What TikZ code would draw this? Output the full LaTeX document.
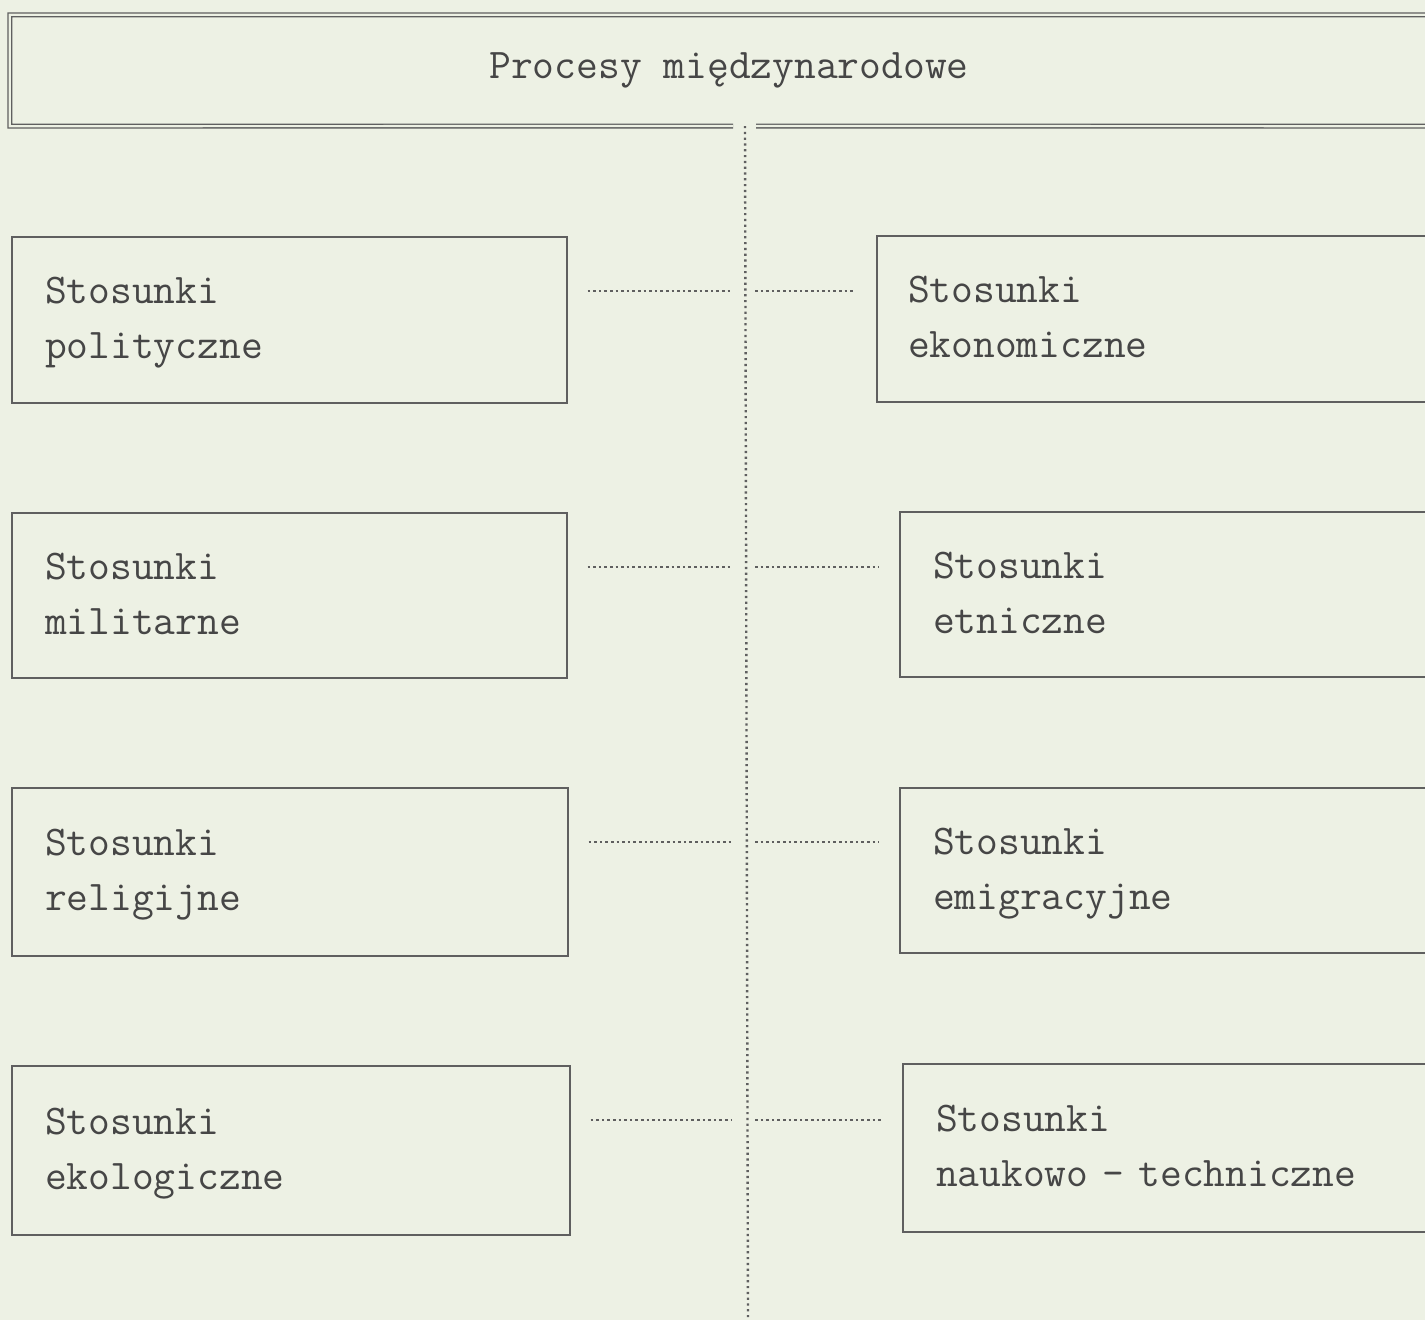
\documentclass[tikz,border=0pt]{standalone}
\usepackage{fontspec}
\usetikzlibrary{calc}
\definecolor{bg}{RGB}{237,241,228}
\definecolor{ink}{RGB}{70,70,70}
\definecolor{rule}{RGB}{95,95,95}
\tikzset{
  relbox/.style={draw=rule, line width=1.3pt, rectangle, align=left,
    inner xsep=33pt, inner ysep=0pt,
    font=\ttfamily\fontsize{42.3pt}{55pt}\selectfont, text=ink},
  titlebox/.style={rectangle, inner sep=0pt,
    font=\ttfamily\fontsize{42.3pt}{50pt}\selectfont, text=ink},
  dotline/.style={draw=rule, line width=2pt, dash pattern=on 2.6pt off 3pt},
  vline/.style={draw=rule, line width=2.4pt, dash pattern=on 2.2pt off 3.6pt},
  dbl/.style={draw=rule, line width=1.4pt, double=bg, double distance=2.2pt}
}
\begin{document}
\begin{tikzpicture}[x=1pt,y=-1pt]
\fill[bg] (0,0) rectangle (1425,1320);
\useasboundingbox (0,0) rectangle (1425,1320);
\clip (0,0) rectangle (1425,1320);

% top box
\node[titlebox, minimum width=1438pt, minimum height=111pt] (top) at (729,70.5) {Procesy międzynarodowe};
\coordinate (vtop) at (745,126);
\coordinate (vbot) at (748,1320);
\draw[dbl] ($(vtop)+(-12,0)$) -- (top.south west) -- (top.north west) -- (top.north east) -- (top.south east) -- ($(vtop)+(11,0)$);

% left boxes
\node[relbox, text width=489pt, minimum height=166pt] (L1) at (289.5,320) {Stosunki\strut\\polityczne\strut};
\node[relbox, text width=489pt, minimum height=165pt] (L2) at (289.5,595.5) {Stosunki\strut\\militarne\strut};
\node[relbox, text width=490pt, minimum height=168pt] (L3) at (290,872) {Stosunki\strut\\religijne\strut};
\node[relbox, text width=492pt, minimum height=169pt] (L4) at (291,1150.5) {Stosunki\strut\\ekologiczne\strut};

% right boxes
\node[relbox, inner xsep=31pt, text width=506pt, minimum height=166pt] (R1) at (1161,319) {Stosunki\strut\\ekonomiczne\strut};
\node[relbox, text width=479pt, minimum height=165pt] (R2) at (1172.5,594.5) {Stosunki\strut\\etniczne\strut};
\node[relbox, text width=479pt, minimum height=165pt] (R3) at (1172.5,870.5) {Stosunki\strut\\emigracyjne\strut};
\node[relbox, text width=476pt, minimum height=168pt] (R4) at (1174,1148) {Stosunki\strut\\naukowo - techniczne\strut};

% vertical dotted line
\draw[vline] (vtop) -- (vbot);

% horizontal dotted connectors
\foreach \i in {1,2,3,4}{
  \path (L\i.north east) ++(0,55) coordinate (h\i);
  \draw[dotline, shorten <=20pt, shorten >=13pt] (h\i) -- (h\i -| vtop);
  \draw[dotline, shorten <=10pt, shorten >=21pt] (h\i -| vtop) -- (h\i -| R\i.west);
}
\end{tikzpicture}
\end{document}
